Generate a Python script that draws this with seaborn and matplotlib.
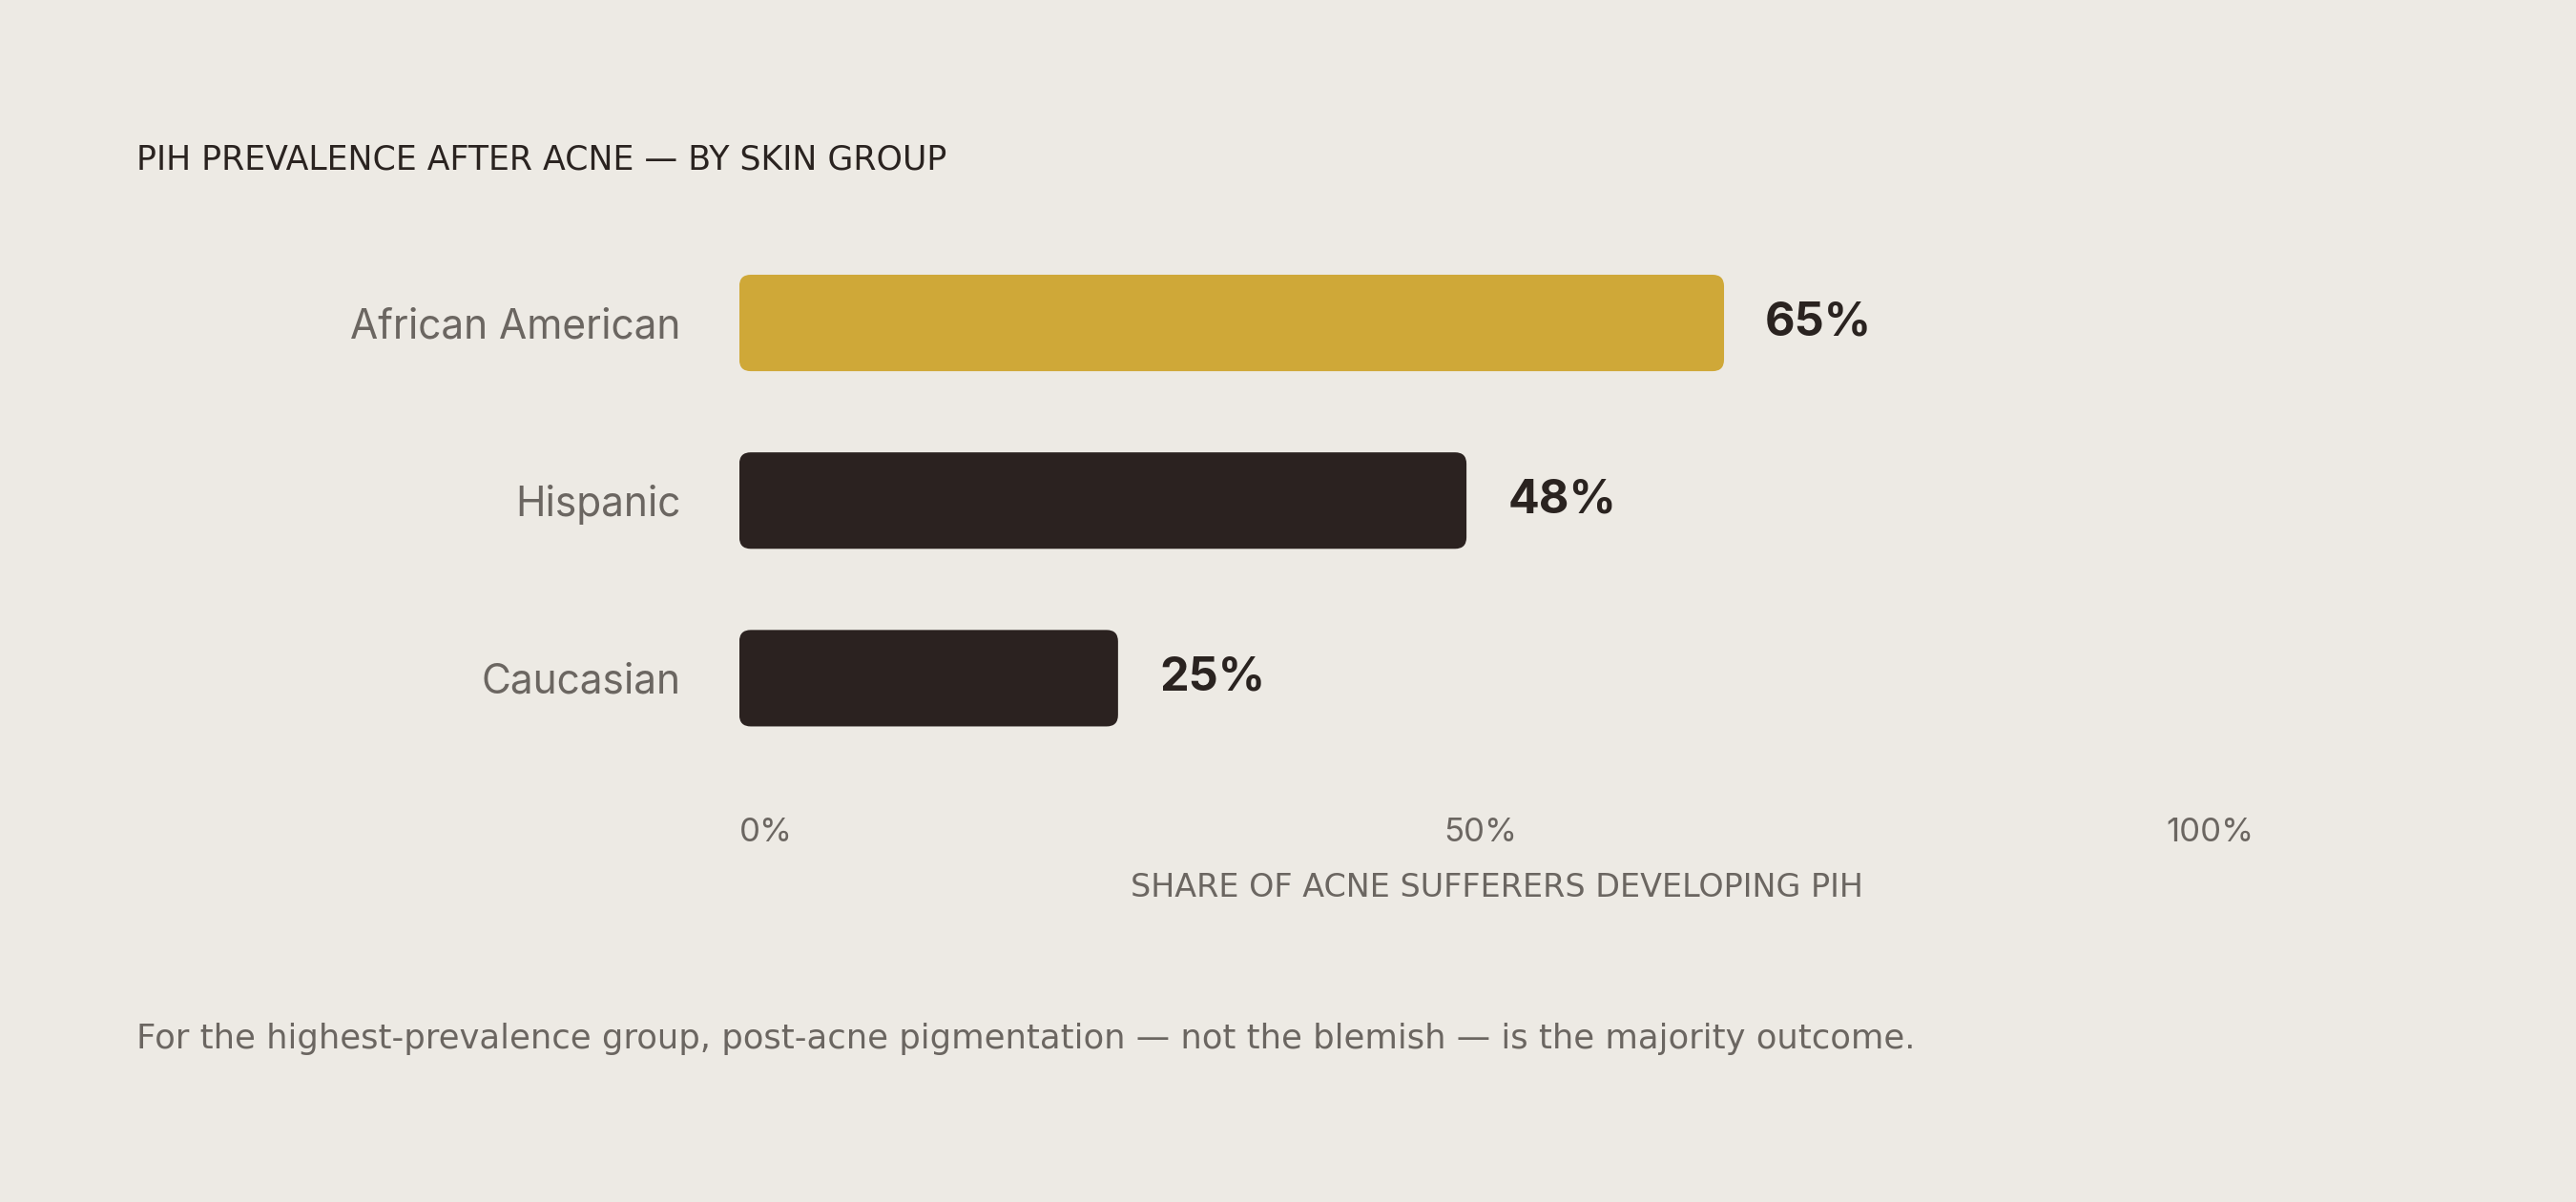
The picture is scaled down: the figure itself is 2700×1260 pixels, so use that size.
import matplotlib
matplotlib.use("Agg")
import matplotlib.pyplot as plt
from matplotlib.patches import FancyBboxPatch
from matplotlib.transforms import ScaledTranslation
import seaborn as sns
import pandas as pd

# chart data
groups = ["African American", "Hispanic", "Caucasian"]
prevalence = [65, 48, 25]
bar_colors = ["#CFA838", "#2B2220", "#2B2220"]
tick_values = [0, 50, 100]
tick_labels = ["0%", "50%", "100%"]

title = "PIH PREVALENCE AFTER ACNE — BY SKIN GROUP"
x_title = "SHARE OF ACNE SUFFERERS DEVELOPING PIH"
note = "For the highest-prevalence group, post-acne pigmentation — not the blemish — is the majority outcome."

BG = "#EDEAE4"
INK = "#2A2320"
MUTED = "#6B6661"
WIDE = ["DejaVu Sans"]  # wider face stands in for the tracked-out caps

sns.set_theme(style="white")
plt.rcParams["font.family"] = ["Inter", "DejaVu Sans"]

df = pd.DataFrame({"group": groups, "pct": prevalence})

fig = plt.figure(figsize=(27, 12.6), dpi=100, facecolor=BG)
ax = fig.add_axes([0.2870, 0.3619, 0.5881, 0.4433])
ax.set_facecolor(BG)

sns.barplot(data=df, x="pct", y="group", hue="group", palette=bar_colors,
            saturation=1, width=0.543, legend=False, orient="h", ax=ax)
ax.set_xlim(0, 100)
ax.set_ylim(2.5, -0.5)

# swap the square bars for rounded ones (same geometry)
px_x = ax.transData.transform((1, 0))[0] - ax.transData.transform((0, 0))[0]
px_y = abs(ax.transData.transform((0, 1))[1] - ax.transData.transform((0, 0))[1])
radius = 12
ends = []
for bar in list(ax.patches):
    x0, y0, w, h = bar.get_x(), bar.get_y(), bar.get_width(), bar.get_height()
    rb = FancyBboxPatch((x0, y0), w, h,
                        boxstyle=f"round,pad=0,rounding_size={radius / px_x}",
                        mutation_aspect=px_x / px_y,
                        facecolor=bar.get_facecolor(), edgecolor="none")
    bar.remove()
    ax.add_patch(rb)
    ends.append((x0 + w, y0 + h / 2))

for (xe, yc), v in zip(ends, prevalence):
    ax.annotate(f"{v}%", xy=(xe, yc), xytext=(31, 0), textcoords="offset points",
                ha="left", va="center", fontsize=35, fontweight="bold", color=INK)

ax.set_xticks(tick_values, tick_labels)
ax.tick_params(axis="x", length=0, pad=38, labelsize=25, labelcolor=MUTED)
ax.tick_params(axis="y", length=0, pad=44, labelsize=30.5, labelcolor=MUTED)
xt = ax.get_xticklabels()
xt[0].set_ha("left")
xt[-1].set_ha("right")
xt[1].set_transform(xt[1].get_transform() + ScaledTranslation(-0.17, 0, fig.dpi_scale_trans))

ax.set_ylabel("")
ax.set_xlabel(x_title, fontsize=24, color=MUTED, labelpad=18, family=WIDE)
sns.despine(ax=ax, left=True, bottom=True)
ax.grid(False)

fig.text(143 / 2700, 1 - 178 / 1260, title, ha="left", va="baseline",
         fontsize=25, color=INK, family=WIDE)
fig.text(143 / 2700, 1 - 1099 / 1260, note, ha="left", va="baseline",
         fontsize=25.5, color=MUTED, family=WIDE)

fig.savefig("out.png", dpi=100, facecolor=BG)
